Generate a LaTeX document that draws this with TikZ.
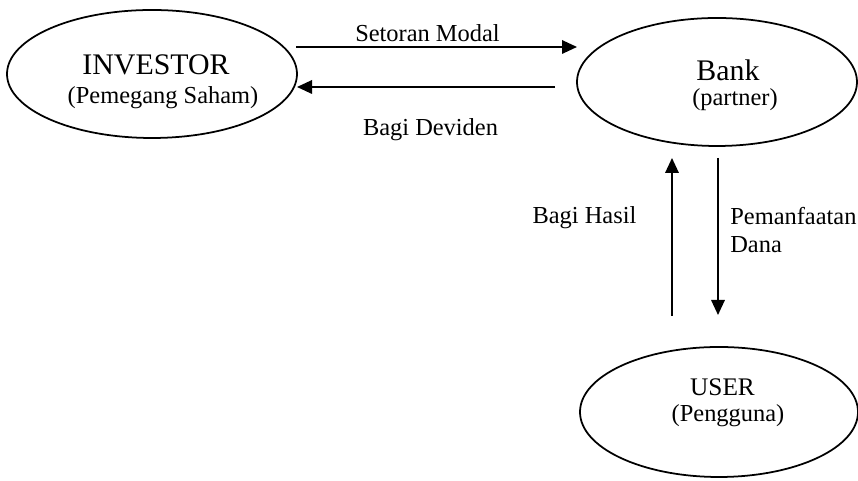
\documentclass[tikz,border=0pt]{standalone}
\usepackage{fontspec}
\setmainfont{Liberation Serif}
\usetikzlibrary{arrows.meta}
\usetikzlibrary{shapes.geometric}

\begin{document}
\begin{tikzpicture}[ main/.style = {draw, ellipse, line width=1pt, inner sep=0pt},
	judul/.style = {font=\fontsize{17}{20}\selectfont},
	ket/.style = {font=\fontsize{13.9}{15.9}\selectfont},
	flow/.style = {line width=1pt, -{Triangle[length=0.3cm,width=0.27cm]}}]
					\useasboundingbox (0,0) rectangle (17.16,9.62);
					\begin{scope}[every node/.style={main}]
						\node[minimum width=5.8cm, minimum height=2.56cm] (inv) at (3.04,8.14) {};
						\node[minimum width=5.6cm, minimum height=2.56cm] (bank) at (14.34,7.98) {};
						\node[minimum width=5.56cm, minimum height=2.6cm] (user) at (14.38,1.38) {};
					\end{scope}
					\node[judul] (invT) at (3.12,8.32) {INVESTOR};
					\node[ket] (invS) at (3.26,7.66) {(Pemegang Saham)};
					\node[judul] (bankT) at (14.56,8.22) {Bank};
					\node[ket] (bankS) at (14.70,7.62) {(partner)};
					\node[ket,font=\fontsize{14.4}{16}\selectfont] (userT) at (14.45,1.88) {USER};
					\node[ket] (userS) at (14.56,1.30) {(Pengguna)};
					% koordinat ujung panah
					\coordinate (a1) at (5.92,8.68);
					\coordinate (a2) at (11.54,8.68);
					\coordinate (b1) at (11.10,7.88);
					\coordinate (b2) at (5.94,7.88);
					\coordinate (c1) at (13.44,3.30);
					\coordinate (c2) at (13.44,6.46);
					\coordinate (d1) at (14.36,6.46);
					\coordinate (d2) at (14.36,3.32);
					\draw [flow] (a1) -- (a2);
					\draw [flow] (b1) -- (b2);
					\draw [flow] (c1) -- (c2);
					\draw [flow] (d1) -- (d2);
					\node[ket] (setor) at (8.55,8.95) {Setoran Modal};
					\node[ket] (dev) at (8.61,7.03) {Bagi Deviden};
					\node[ket] (hasil) at (11.69,5.27) {Bagi Hasil};
					\node[ket, align=left, anchor=north west, inner sep=0pt] (dana) at (14.60,5.48) {Pemanfaatan\\ Dana};
				\end{tikzpicture}
\end{document}
